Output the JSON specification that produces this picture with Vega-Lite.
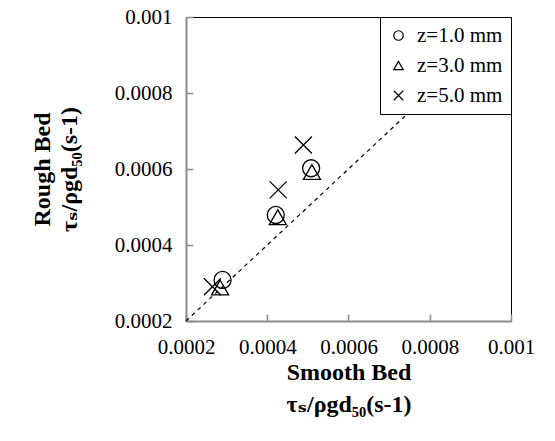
{
  "$schema": "https://vega.github.io/schema/vega-lite/v6.json",
  "width": 325,
  "height": 304,
  "autosize": "none",
  "padding": {"left": 186, "top": 17, "right": 44, "bottom": 120},
  "background": "white",
  "config": {
    "view": {"stroke": "black", "strokeWidth": 1},
    "font": "'Liberation Serif', 'DejaVu Serif', serif",
    "axis": {
      "grid": false,
      "domainColor": "#8c8c8c",
      "domainWidth": 2,
      "tickColor": "#8c8c8c",
      "tickWidth": 1.5,
      "tickSize": -7,
      "labelFlush": false,
      "labelFont": "'Liberation Serif', 'DejaVu Serif', serif",
      "labelFontSize": 21,
      "labelColor": "black",
      "titleFont": "'Liberation Serif', 'DejaVu Serif', serif",
      "titleFontSize": 24,
      "titleFontWeight": "bold",
      "titleColor": "black",
      "titleLineHeight": 32
    }
  },
  "layer": [
    {
      "data": {"values": [{"x": 0.0002, "y": 0.0002}, {"x": 0.001, "y": 0.001}]},
      "mark": {"type": "line", "color": "black", "strokeWidth": 1.2, "strokeDash": [4, 4]},
      "encoding": {
        "x": {"field": "x", "type": "quantitative"},
        "y": {"field": "y", "type": "quantitative"}
      }
    },
    {
      "data": {"values": [
        {"smooth": 0.00029, "rough": 0.000308, "z": "z=1.0 mm"},
        {"smooth": 0.000421, "rough": 0.000479, "z": "z=1.0 mm"},
        {"smooth": 0.000508, "rough": 0.000602, "z": "z=1.0 mm"},
        {"smooth": 0.000284, "rough": 0.000288, "z": "z=3.0 mm"},
        {"smooth": 0.000426, "rough": 0.000473, "z": "z=3.0 mm"},
        {"smooth": 0.00051, "rough": 0.000592, "z": "z=3.0 mm"},
        {"smooth": 0.000265, "rough": 0.00029, "z": "z=5.0 mm"},
        {"smooth": 0.000427, "rough": 0.000545, "z": "z=5.0 mm"},
        {"smooth": 0.000489, "rough": 0.000663, "z": "z=5.0 mm"}
      ]},
      "mark": {"type": "point", "filled": false, "color": "black", "strokeWidth": 1.3, "size": 290, "opacity": 1},
      "encoding": {
        "x": {
          "field": "smooth", "type": "quantitative",
          "scale": {"domain": [0.0002, 0.001], "nice": false, "zero": false},
          "axis": {"values": [0.0002, 0.0004, 0.0006, 0.0008, 0.001], "format": "~g", "labelPadding": 22, "title": ["Smooth Bed", "τₛ/ρgd₅₀(s-1)"], "titlePadding": 3}
        },
        "y": {
          "field": "rough", "type": "quantitative",
          "scale": {"domain": [0.0002, 0.001], "nice": false, "zero": false},
          "axis": {"values": [0.0002, 0.0004, 0.0006, 0.0008, 0.001], "format": "~g", "labelPadding": 21, "title": ["Rough Bed", "τₛ/ρgd₅₀(s-1)"], "titlePadding": 33, "titleLineHeight": 27}
        },
        "shape": {
          "field": "z", "type": "nominal",
          "scale": {"domain": ["z=1.0 mm", "z=3.0 mm", "z=5.0 mm"], "range": ["circle", "triangle-up", "M-1,-1L1,1M1,-1L-1,1"]},
          "legend": {
            "title": null,
            "orient": "top-right",
            "offset": 0,
            "fillColor": "white",
            "strokeColor": "black",
            "padding": 8,
            "labelFont": "'Liberation Serif', 'DejaVu Serif', serif",
            "labelFontSize": 21,
            "labelColor": "black",
            "symbolSize": 90,
            "symbolStrokeWidth": 1.2,
            "symbolStrokeColor": "black",
            "symbolFillColor": "transparent",
            "rowPadding": 8,
            "labelOffset": 8,
            "labelLimit": 200
          }
        }
      }
    }
  ]
}
